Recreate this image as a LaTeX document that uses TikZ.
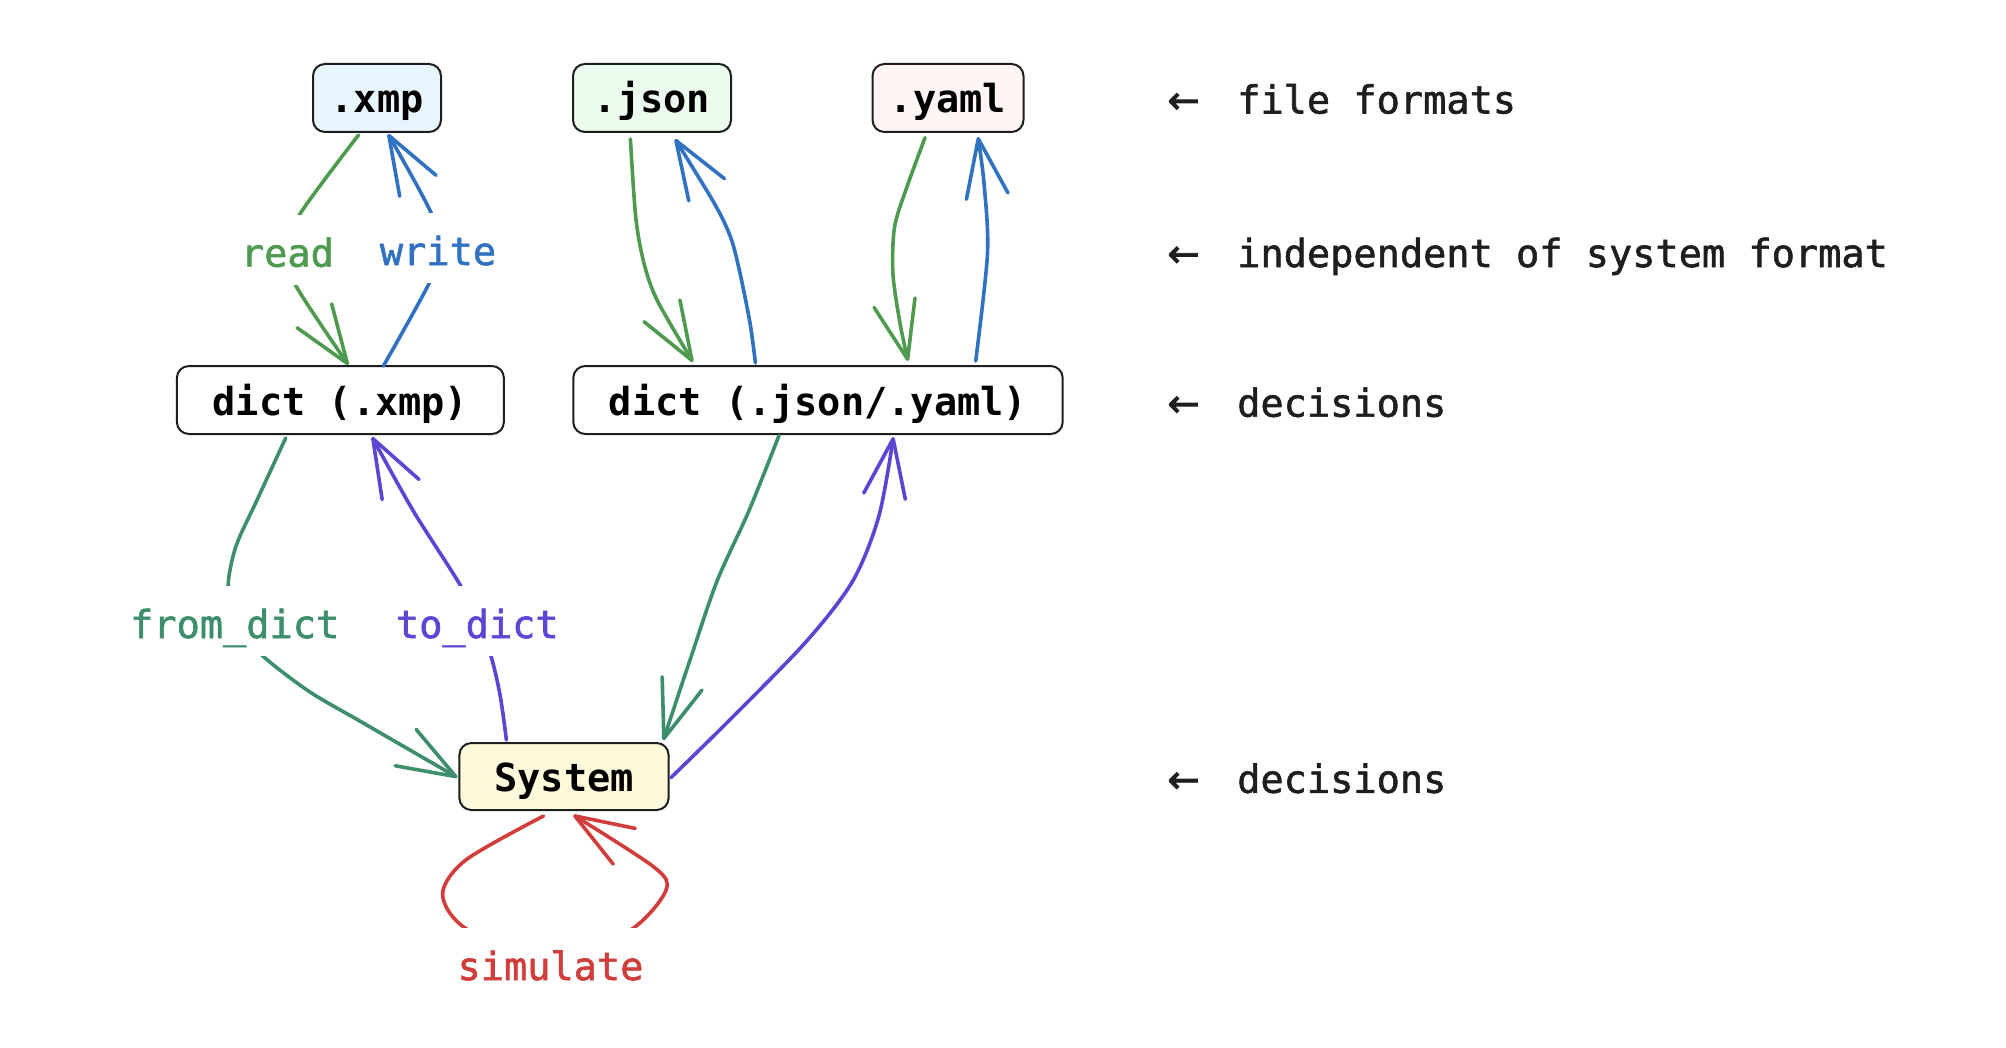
\documentclass[tikz,border=0pt]{standalone}
\usepackage{fontspec}
\setmonofont{DejaVu Sans Mono}
\newfontfamily\medmono[FakeBold=1.5]{DejaVu Sans Mono}
\newfontfamily\arrowfont[FakeBold=2]{DejaVu Sans}
\usetikzlibrary{arrows.meta,calc}
\definecolor{ink}{HTML}{1E1E1E}
\definecolor{cread}{HTML}{4E9B50}
\definecolor{cwrite}{HTML}{3171C1}
\definecolor{cfrom}{HTML}{3D8E6B}
\definecolor{cto}{HTML}{5A46D3}
\definecolor{csim}{HTML}{D13D3A}
\definecolor{fxmp}{HTML}{E7F5FF}
\definecolor{fjson}{HTML}{EBFBEE}
\definecolor{fyaml}{HTML}{FFF5F5}
\definecolor{fsys}{HTML}{FFF9DB}
\newcommand{\noteline}[1]{\makebox[34.9pt][l]{\arrowfont ←}#1}
\begin{document}
\begin{tikzpicture}[x=0.5pt,y=-0.5pt,
  every node/.style={font=\medmono\fontsize{19.3}{23}\selectfont},
  box/.style={draw=ink, line width=1pt, rounded corners=6pt, inner sep=0pt,
    minimum height=34pt, text height=15pt, text depth=0pt,
    font=\ttfamily\bfseries\fontsize{19.3}{23}\selectfont, text=black},
  conn/.style={line width=1.8pt, line cap=round, line join=round,
    -{Straight Barb[length=29pt,width=21pt,round]}},
  lab/.style={fill=white, anchor=base, inner xsep=3pt, inner ysep=9pt,
    text height=17pt, text depth=0pt},
  note/.style={anchor=base west, text=ink, inner sep=0pt}
]
\useasboundingbox (0,0) rectangle (2006,1048);

% boxes
\node[box, fill=fxmp, minimum width=64pt] (xmp) at (377,98) {.xmp};
\node[box, fill=fjson, minimum width=79pt] (json) at (652,98) {.json};
\node[box, fill=fyaml, minimum width=75.5pt] (yaml) at (948,98) {.yaml};
\node[box, fill=white, minimum width=163.5pt] (dxmp) at (340.4,400) {dict (.xmp)};
\node[box, fill=white, minimum width=244.7pt] (djson) at (818,400) {dict (.json/.yaml)};
\node[box, fill=fsys, minimum width=104.6pt, minimum height=33.5pt] (sys) at (564,776.5) {System};

% read / write (.xmp)
\draw[conn, cread] plot[smooth] coordinates {($(xmp.south)+(-18.5,2)$) (299.3,215) (287,251.7) (295.4,285) ($(dxmp.north)+(8,0)$)};
\draw[conn, cwrite] plot[smooth] coordinates {($(dxmp.north)+(43,1)$) (429.4,282.7) (438,251) (431.3,213.3) ($(xmp.south)+(11,1)$)};

% .json
\draw[conn, cread] plot[smooth] coordinates {($(json.south)+(-21.6,6)$) (635.7,216.7) (643.6,261.7) (657,300) ($(djson.north)+(-125.1,-3)$)};
\draw[conn, cwrite] plot[smooth] coordinates {($(djson.north)+(-62.6,-2)$) (750,323) (739.3,270) (730.4,236.7) (714.3,203.3) ($(json.south)+(23,6)$)};

% .yaml
\draw[conn, cread] plot[smooth] coordinates {($(yaml.south)+(-23,4.7)$) (907,186.7) (894.6,226.7) (892.9,273.3) (900,323.3) ($(djson.north)+(90,-4)$)};
\draw[conn, cwrite] plot[smooth] coordinates {($(djson.north)+(157.7,-4)$) (987.5,253.3) (984,183.3) ($(yaml.south)+(30,4)$)};

% from_dict / to_dict (.xmp)
\draw[conn, cfrom] plot[smooth] coordinates {($(dxmp.south)+(-54.7,3)$) (256.9,500.3) (236,546.2) (228.1,586.3) (234.7,623.7) (263.2,656.3) (309.2,691.5) (361.5,722) ($(sys.west)+(-1,1)$)};
\draw[conn, cto] plot[smooth] coordinates {($(sys.north)+(-57.6,-2)$) (500.1,695.3) (490.7,655.2) (477,624) (460.9,586.3) (413.8,511.8) ($(dxmp.south)+(31.6,2)$)};

% from_dict / to_dict (.json/.yaml)
\draw[conn, cfrom] plot[smooth] coordinates {($(djson.south)+(-39,0.5)$) (748.5,511.8) (717.2,580.6) (691,657) ($(sys.north)+(99.3,-1.8)$)};
\draw[conn, cto] plot[smooth] coordinates {($(sys.east)+(1.5,1)$) (727.6,722) (806,641.8) (853,580.6) (879,515.6) ($(djson.south)+(75.4,2)$)};

% simulate loop
\draw[conn, csim] plot[smooth] coordinates {($(sys.south)+(-20.5,5)$) (466,859.8) (442.6,894.2) (466,928.6) (550.5,965) (630.9,929.8) (665.9,890.4) (654.4,867.4) ($(sys.south)+(9.3,4)$)};

% edge labels
\node[lab, text=cread] (lread) at (287.4,266.7) {read};
\node[lab, text=cwrite] (lwrite) at (438,265) {write};
\node[lab, text=cfrom] (lfrom) at (234.7,638) {from\_dict};
\node[lab, text=cto] (lto) at (477.3,638) {to\_dict};
\node[lab, text=csim] (lsim) at (550.5,980) {simulate};

% side notes
\node[note] (n1) at (1167,113.5) {\noteline{file formats}};
\node[note] (n2) at (1167,267) {\noteline{independent of system format}};
\node[note] (n3) at (1167,416.7) {\noteline{decisions}};
\node[note] (n4) at (1167,792.8) {\noteline{decisions}};
\end{tikzpicture}
\end{document}
